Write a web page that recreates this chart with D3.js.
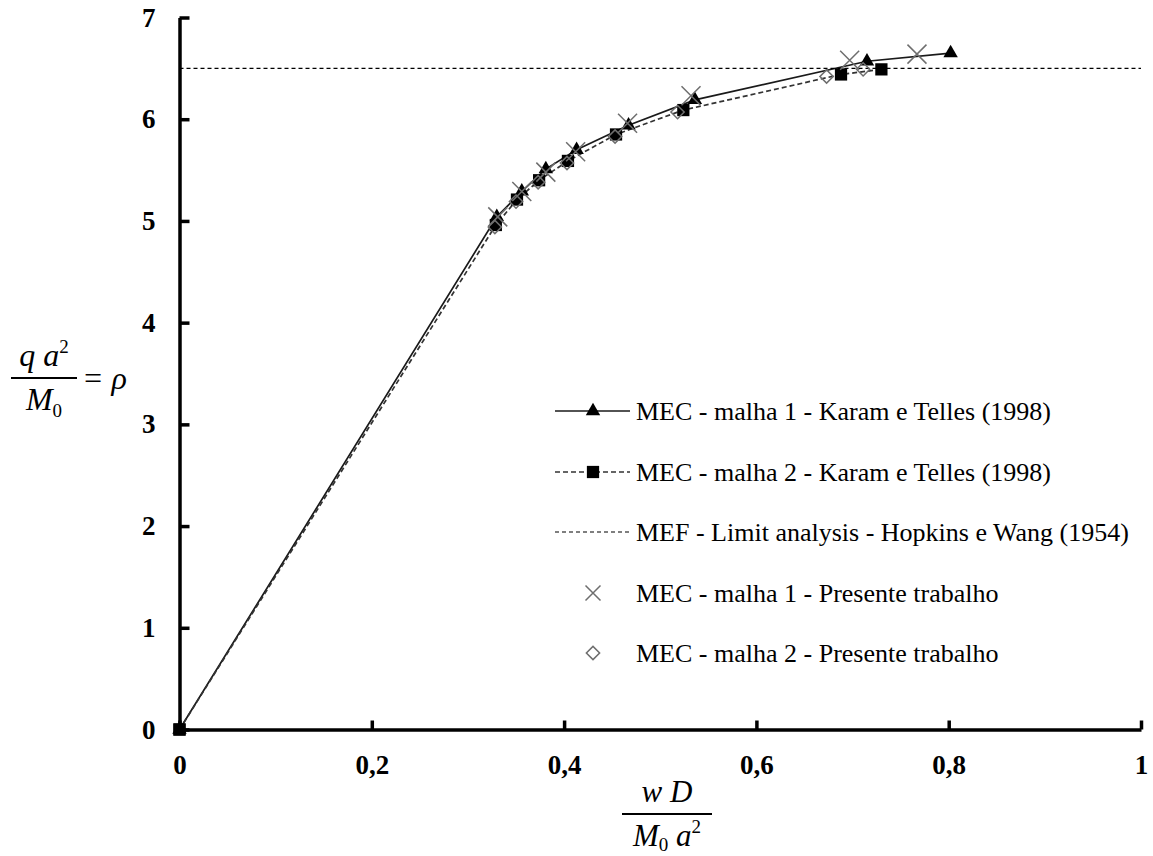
<!DOCTYPE html>
<html>
<head>
<meta charset="utf-8">
<script src="https://cdn.jsdelivr.net/npm/d3@7"></script>
<style>
  html, body { margin: 0; padding: 0; background: #fff; }
  svg { display: block; }
  text { font-family: "Liberation Serif", "Times New Roman", serif; fill: #000; }
</style>
</head>
<body>
<svg id="chart" width="1153" height="856"></svg>
<script>
// Load–deflection curves: normalised load rho = q a^2 / M0 against w D / (M0 a^2)
const xTicks = [0, 0.2, 0.4, 0.6, 0.8, 1];
const yTicks = [0, 1, 2, 3, 4, 5, 6, 7];

// MEC - malha 1 - Karam e Telles (1998)
const karam1X = [0, 0.330, 0.356, 0.381, 0.413, 0.467, 0.536, 0.715, 0.802];
const karam1Y = [0, 5.04, 5.29, 5.51, 5.70, 5.94, 6.19, 6.57, 6.65];

// MEC - malha 2 - Karam e Telles (1998)
const karam2X = [0, 0.329, 0.351, 0.374, 0.404, 0.454, 0.524, 0.688, 0.730];
const karam2Y = [0, 4.96, 5.21, 5.40, 5.59, 5.85, 6.09, 6.44, 6.49];

// MEF - Limit analysis - Hopkins e Wang (1954)
const limitLoad = 6.5;

// MEC - malha 1 - Presente trabalho
const presente1X = [0.331, 0.356, 0.381, 0.412, 0.466, 0.532, 0.697, 0.767];
const presente1Y = [5.04, 5.29, 5.48, 5.68, 5.96, 6.23, 6.58, 6.64];

// MEC - malha 2 - Presente trabalho
const presente2X = [0.328, 0.350, 0.373, 0.403, 0.453, 0.518, 0.673, 0.711];
const presente2Y = [4.94, 5.19, 5.38, 5.57, 5.83, 6.07, 6.42, 6.49];

const legendLabels = [
  "MEC - malha 1 - Karam e Telles (1998)",
  "MEC - malha 2 - Karam e Telles (1998)",
  "MEF - Limit analysis - Hopkins e Wang (1954)",
  "MEC - malha 1 - Presente trabalho",
  "MEC - malha 2 - Presente trabalho"
];

const zip = (xs, ys) => xs.map((v, i) => [v, ys[i]]);

const svg = d3.select("#chart");
const x = d3.scaleLinear().domain([0, 1]).range([179.5, 1141]);
const y = d3.scaleLinear().domain([0, 7]).range([729.5, 17.5]);

const fmt = d => String(d).replace(".", ",");

// ---- marker shapes ----
const triPath = d3.symbol().type(d3.symbolTriangle).size(90)();
const sqPath = d3.symbol().type(d3.symbolSquare).size(150)();
const diaPath = d3.symbol().type(d3.symbolSquare).size(88)();
const crossPath = r => `M${-r},${-r}L${r},${r}M${-r},${r}L${r},${-r}`;

function drawTriangle(g) { g.append("path").attr("d", triPath).attr("fill", "#000"); }
function drawSquare(g) { g.append("path").attr("d", sqPath).attr("fill", "#000"); }
function drawCross(g, r = 9.5) {
  g.append("path").attr("d", crossPath(r)).attr("fill", "none")
    .attr("stroke", "#6e6e6e").attr("stroke-width", 1.5);
}
function drawDiamond(g) {
  g.append("path").attr("d", diaPath).attr("transform", "rotate(45)")
    .attr("fill", "none").attr("stroke", "#6e6e6e").attr("stroke-width", 1.5);
}

const plot = svg.append("g");
const line = d3.line().x(d => x(d[0])).y(d => y(d[1]));

function markers(data, draw) {
  plot.append("g").selectAll("g").data(data).join("g")
    .attr("transform", d => `translate(${x(d[0])},${y(d[1])})`)
    .each(function () { draw(d3.select(this)); });
}

// series 1: solid line with triangles
const k1 = zip(karam1X, karam1Y);
plot.append("path").datum(k1).attr("d", line)
  .attr("fill", "none").attr("stroke", "#1a1a1a").attr("stroke-width", 1.7);

// series 2: dashed line with squares
const k2 = zip(karam2X, karam2Y);
plot.append("path").datum(k2).attr("d", line)
  .attr("fill", "none").attr("stroke", "#333").attr("stroke-width", 1.7)
  .attr("stroke-dasharray", "5,3");

markers(k1, drawTriangle);
markers(k2, drawSquare);

// series 3: limit load
plot.append("line")
  .attr("x1", x(0)).attr("x2", x(1))
  .attr("y1", y(limitLoad)).attr("y2", y(limitLoad))
  .attr("stroke", "#000").attr("stroke-width", 1.2)
  .attr("stroke-dasharray", "4,3");

// series 4 and 5: markers only
markers(zip(presente1X, presente1Y), g => drawCross(g));
markers(zip(presente2X, presente2Y), drawDiamond);

// ---- axes ----
const xAxis = svg.append("g").attr("transform", `translate(0,${y(0)})`)
  .call(d3.axisBottom(x).tickValues(xTicks).tickFormat(fmt)
    .tickSizeInner(-9).tickSizeOuter(0).tickPadding(25));
const yAxis = svg.append("g").attr("transform", `translate(${x(0)},0)`)
  .call(d3.axisLeft(y).tickValues(yTicks).tickFormat(fmt)
    .tickSizeInner(-10).tickSizeOuter(0).tickPadding(24));

[xAxis, yAxis].forEach(a => {
  a.select(".domain").attr("stroke", "#000").attr("stroke-width", 3.5);
  a.selectAll(".tick line").attr("stroke", "#000").attr("stroke-width", 3.5);
  a.selectAll(".tick text")
    .attr("font-family", "Liberation Serif")
    .attr("font-size", 27).attr("font-weight", "bold").attr("fill", "#000");
});

// square marker sitting on the origin (both Karam series start there)
svg.append("path").attr("d", sqPath).attr("fill", "#000")
  .attr("transform", `translate(${x(0)},${y(0)})`);

// ---- axis titles (fractions) ----
function fraction(cx, barY, barW, numParts, denParts, fs) {
  const g = svg.append("g").attr("font-style", "italic").attr("font-size", fs);
  g.append("line").attr("x1", cx - barW / 2).attr("x2", cx + barW / 2)
    .attr("y1", barY).attr("y2", barY).attr("stroke", "#000").attr("stroke-width", 2);
  const num = g.append("text").attr("x", cx).attr("y", barY - 12).attr("text-anchor", "middle");
  numParts.forEach(p => num.append("tspan").text(p.t)
    .attr("font-size", p.s || fs).attr("dy", p.dy || 0).attr("font-style", p.up ? "normal" : "italic"));
  const den = g.append("text").attr("x", cx).attr("y", barY + 32).attr("text-anchor", "middle");
  denParts.forEach(p => den.append("tspan").text(p.t)
    .attr("font-size", p.s || fs).attr("dy", p.dy || 0).attr("font-style", p.up ? "normal" : "italic"));
  return g;
}

// y title: q a^2 / M0 = rho
fraction(44, 378, 66,
  [{t: "q a"}, {t: "2", s: 19, dy: -13, up: true}],
  [{t: "M"}, {t: "0", s: 19, dy: 7, up: true}], 32);
svg.append("text").attr("x", 82).attr("y", 389).attr("font-size", 32)
  .attr("font-style", "italic").text("= ρ");

// x title: w D / (M0 a^2)
fraction(667, 814, 90,
  [{t: "w D"}],
  [{t: "M"}, {t: "0", s: 19, dy: 5, up: true}, {t: " a", dy: -5}, {t: "2", s: 19, dy: -13, up: true}], 31);

// ---- legend ----
const legendY = [411, 472, 532, 593, 653];
const lx0 = 555, lx1 = 630, lmx = 593, ltx = 636;
const legendMarks = [drawTriangle, drawSquare, null, g => drawCross(g, 7.5), drawDiamond];
const leg = svg.append("g");
legendLabels.forEach((label, i) => {
  const cy = legendY[i];
  if (i === 0) {
    leg.append("line").attr("x1", lx0).attr("x2", lx1).attr("y1", cy).attr("y2", cy)
      .attr("stroke", "#1a1a1a").attr("stroke-width", 1.7);
  } else if (i === 1) {
    leg.append("line").attr("x1", lx0).attr("x2", lx1).attr("y1", cy).attr("y2", cy)
      .attr("stroke", "#333").attr("stroke-width", 1.7).attr("stroke-dasharray", "5,3");
  } else if (i === 2) {
    leg.append("line").attr("x1", lx0).attr("x2", lx1).attr("y1", cy).attr("y2", cy)
      .attr("stroke", "#000").attr("stroke-width", 1.2).attr("stroke-dasharray", "4,3");
  }
  if (legendMarks[i]) legendMarks[i](leg.append("g").attr("transform", `translate(${lmx},${cy})`));
  leg.append("text").attr("x", ltx).attr("y", cy).attr("dy", "0.35em")
    .attr("font-size", 26).text(label);
});
</script>
</body>
</html>
